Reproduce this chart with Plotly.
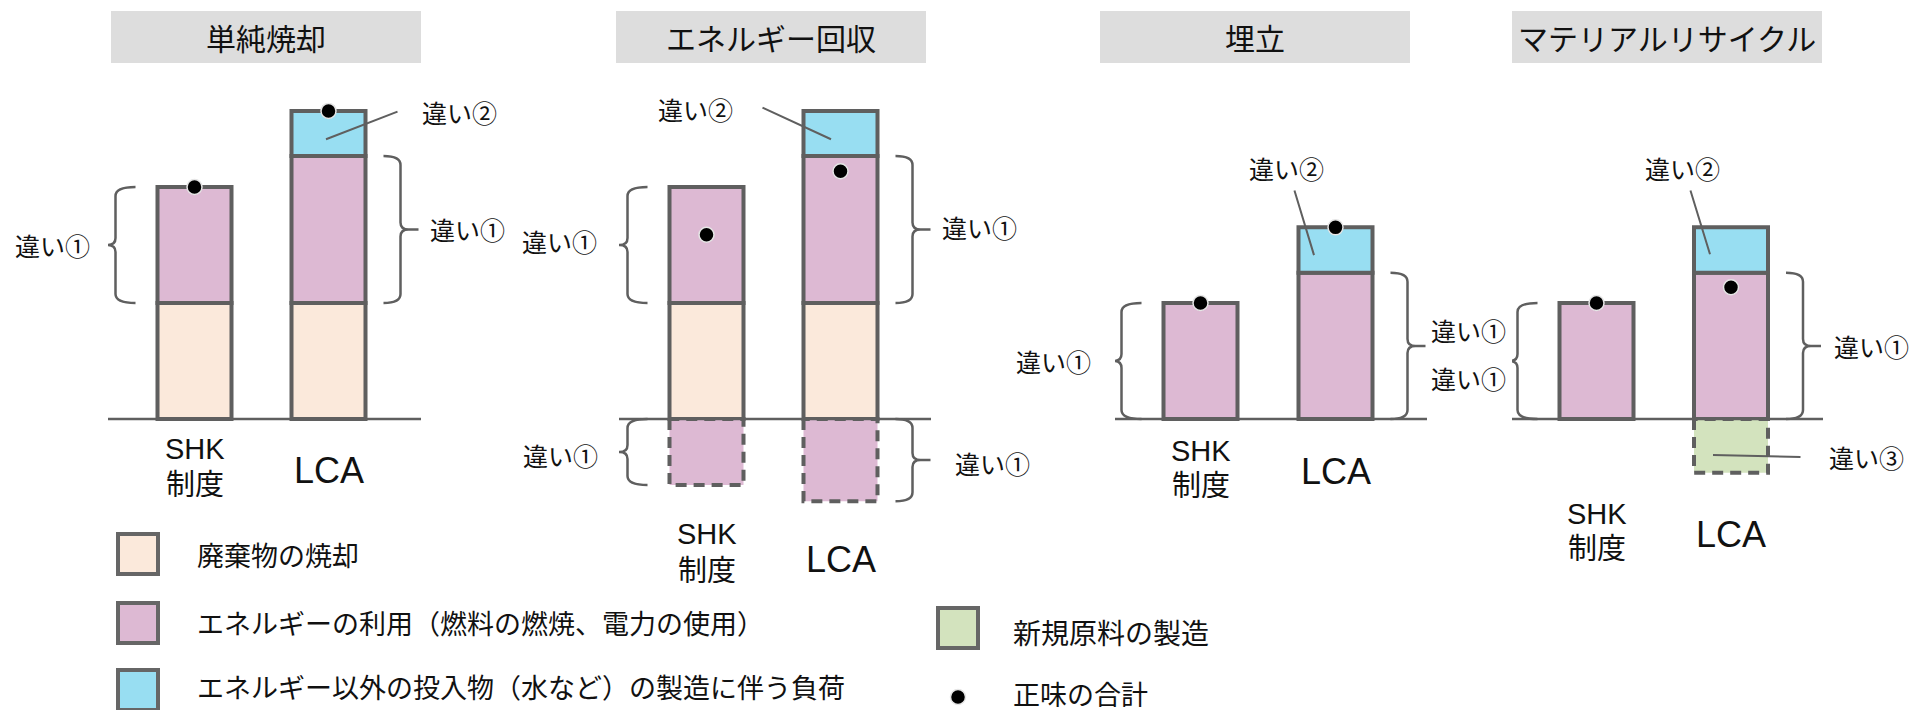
import plotly.graph_objects as go

# ---------------------------------------------------------------- data
PANELS = ["単純焼却", "エネルギー回収", "埋立", "マテリアルリサイクル"]
CATEGORIES = ["SHK制度", "LCA"]
CATEGORY_LINES = [["SHK", "制度"], ["LCA"]]

# stacked components per panel: [SHK制度, LCA]
WASTE_INCINERATION = [[2.5, 2.5], [2.5, 2.5], [None, None], [None, None]]
ENERGY_USE = [[2.5, 3.17], [2.5, 3.17], [2.5, 3.15], [2.5, 3.15]]
OTHER_INPUTS = [[None, 0.97], [None, 0.97], [None, 0.98], [None, 0.98]]
ENERGY_RECOVERY_CREDIT = [[None, None], [-1.42, -1.77], [None, None], [None, None]]
NEW_MATERIAL = [[None, None], [None, None], [None, None], [None, -1.16]]
NET_TOTAL = [[5.0, 6.64], [3.97, 5.34], [2.5, 4.13], [2.5, 2.84]]

LEGEND_LEFT = [
    "廃棄物の焼却",
    "エネルギーの利用（燃料の燃焼、電力の使用）",
    "エネルギー以外の投入物（水など）の製造に伴う負荷",
]
LEGEND_RIGHT = ["新規原料の製造", "正味の合計"]
DIFF_1, DIFF_2, DIFF_3 = "違い①", "違い②", "違い③"

# ---------------------------------------------------------------- style
W, H = 1912, 710
PEACH = "#FBE9DB"
PURPLE = "#DDB9D3"
BLUE = "#98DEF2"
GREEN = "#D3E3BE"
EDGE = "#5f5f5f"
TITLE_BG = "#DDDDDD"
TXT = "#111111"
JP = "Noto Sans CJK JP"
LAT = "Liberation Sans, Arial, Noto Sans CJK JP"

BASE_PX = 419          # page row of the zero line
PPU_Y = 46.4           # pixels per value unit
BAR_PX = 74

# pixel geometry of each panel: baseline extent, bar centres, title box, label rows
GEOM = [
    dict(line=(108, 421), centers=(194.5, 328.5), title=(111, 421), lab=(449, 482, 470)),
    dict(line=(619, 931), centers=(706.5, 840.5), title=(616, 926), lab=(534, 568, 559)),
    dict(line=(1115, 1427), centers=(1200.5, 1335.5), title=(1100, 1410), lab=(451, 483, 471)),
    dict(line=(1512, 1823), centers=(1596.5, 1731), title=(1512, 1822), lab=(514, 546, 534)),
]


def px(x):
    return x / W


def py(y):
    return 1 - y / H


fig = go.Figure()
shapes = []
annotations = []


def label(text, x, y, size, font=JP, xanchor="center", xref="paper", yref="paper", height=None):
    ann = dict(
        text=text, x=x, y=y, xref=xref, yref=yref, showarrow=False,
        xanchor=xanchor, yanchor="middle",
        font=dict(family=font, size=size, color=TXT),
    )
    if height is not None:
        ann.update(height=height, borderpad=0, valign="middle")
    annotations.append(ann)


def brace(xname, xc, y_lo, y_hi, ppu, side):
    if side == "left":
        spine, end, tip, s = -79, -59, -98, -1
    else:
        spine, end, tip, s = 72, 55, 90, 1
    knee = spine + s * 8

    def X(o):
        return xc + o / ppu

    r = 9 / PPU_Y
    k = 7 / PPU_Y
    ym = (y_lo + y_hi) / 2
    path = (
        f"M {X(end)},{y_hi} Q {X(spine)},{y_hi} {X(spine)},{y_hi - r} "
        f"L {X(spine)},{ym + k} Q {X(spine)},{ym} {X(knee)},{ym} L {X(tip)},{ym} "
        f"M {X(knee)},{ym} Q {X(spine)},{ym} {X(spine)},{ym - k} "
        f"L {X(spine)},{y_lo + r} Q {X(spine)},{y_lo} {X(end)},{y_lo}"
    )
    shapes.append(dict(type="path", path=path, xref=xname, yref="y",
                       line=dict(color=EDGE, width=2.5)))


layout_axes = {}
xs = list(range(len(CATEGORIES)))

for p, g in enumerate(GEOM):
    suffix = "" if p == 0 else str(p + 1)
    xname = "x" + suffix
    L, R = g["line"]
    c0, c1 = g["centers"]
    ppu = c1 - c0
    bw = BAR_PX / ppu
    layout_axes["xaxis" + suffix] = dict(
        domain=[px(L), px(R)], range=[(L - c0) / ppu, (R - c0) / ppu],
        visible=False, fixedrange=True,
    )

    # stacked solid segments
    for series, color in [(WASTE_INCINERATION, PEACH), (ENERGY_USE, PURPLE), (OTHER_INPUTS, BLUE)]:
        fig.add_trace(go.Bar(
            x=xs, y=series[p], width=bw, xaxis=xname, yaxis="y",
            marker=dict(color=color, line=dict(color=EDGE, width=4)),
            hoverinfo="skip", showlegend=False,
        ))
    # dashed segments below the zero line
    for series, color in [(ENERGY_RECOVERY_CREDIT, PURPLE), (NEW_MATERIAL, GREEN)]:
        fig.add_trace(go.Bar(
            x=xs, y=series[p], width=bw, xaxis=xname, yaxis="y",
            marker=dict(color=color, line=dict(width=0)),
            hoverinfo="skip", showlegend=False,
        ))
        for i, v in enumerate(series[p]):
            if v is None:
                continue
            a, b = i - bw / 2, i + bw / 2
            fig.add_trace(go.Scatter(
                x=[a, a, b, b, a], y=[0, v, v, 0, 0], mode="lines",
                xaxis=xname, yaxis="y",
                line=dict(color=EDGE, width=4, dash="11px,7px"),
                hoverinfo="skip", showlegend=False,
            ))

    # net totals
    fig.add_trace(go.Scatter(
        x=xs, y=NET_TOTAL[p], mode="markers", xaxis=xname, yaxis="y",
        marker=dict(color="black", size=15, line=dict(color="#e6e6e6", width=1.5)),
        hoverinfo="skip", showlegend=False,
    ))

    # zero line
    shapes.append(dict(type="line", xref=f"{xname} domain", x0=0, x1=1,
                       yref="y", y0=0, y1=0, line=dict(color=EDGE, width=2.5)))

    # braces around energy-use segments
    for i, side in [(0, "left"), (1, "right")]:
        lo = WASTE_INCINERATION[p][i] or 0
        brace(xname, i, lo, lo + ENERGY_USE[p][i], ppu, side)
        credit = ENERGY_RECOVERY_CREDIT[p][i]
        if credit is not None:
            brace(xname, i, credit, 0, ppu, side)

    # title box
    t0, t1 = g["title"]
    shapes.append(dict(type="rect", xref="paper", yref="paper", layer="below",
                       x0=px(t0), x1=px(t1), y0=py(63), y1=py(11),
                       fillcolor=TITLE_BG, line=dict(width=0)))
    label(PANELS[p], px((t0 + t1) / 2), py(37), 30)

    # category labels
    y_shk, y_sei, y_lca = g["lab"]
    label(CATEGORY_LINES[0][0], 0, py(y_shk), 29, font=LAT, xref=xname, height=28)
    label(CATEGORY_LINES[0][1], 0, py(y_sei), 29, xref=xname, height=30)
    label(CATEGORY_LINES[1][0], 1, py(y_lca), 36, font=LAT, xref=xname)

# brace labels (pixel centres)
for (x, y) in [(52, 245), (467, 229), (559, 241), (979, 227), (560, 455), (992, 463),
               (1053, 361), (1468, 330), (1468, 378), (1871, 346)]:
    label(DIFF_1, px(x), py(y), 25)
for (x, y) in [(459, 112), (695, 109), (1286, 168), (1682, 168)]:
    label(DIFF_2, px(x), py(y), 25)
label(DIFF_3, px(1866), py(457), 25)

# leader lines: (panel, head x offset px, fraction into segment, tail pixel)
for p, dx, frac, tail in [(0, -2.5, 0.37, (399, 111)), (1, -9.5, 0.37, (761, 107)),
                          (2, -21.5, 0.39, (1294, 189)), (3, -21, 0.41, (1690, 189))]:
    g = GEOM[p]
    lo = (WASTE_INCINERATION[p][1] or 0) + ENERGY_USE[p][1]
    hy = lo + frac * OTHER_INPUTS[p][1]
    hx_px = g["centers"][1] + dx
    hy_px = BASE_PX - hy * PPU_Y
    xname = "x" + ("" if p == 0 else str(p + 1))
    annotations.append(dict(
        text="", x=1 + dx / (g["centers"][1] - g["centers"][0]), y=hy,
        xref=xname, yref="y", showarrow=True, arrowhead=0, arrowwidth=2,
        arrowcolor=EDGE, ax=tail[0] - hx_px, ay=tail[1] - hy_px, standoff=0,
    ))
# leader to the new-material segment
g = GEOM[3]
hy = 0.67 * NEW_MATERIAL[3][1]
hx_px = g["centers"][1] - 18
annotations.append(dict(
    text="", x=1 - 18 / (g["centers"][1] - g["centers"][0]), y=hy,
    xref="x4", yref="y", showarrow=True, arrowhead=0, arrowwidth=2,
    arrowcolor=EDGE, ax=1802 - hx_px, ay=457 - (BASE_PX - hy * PPU_Y), standoff=0,
))

# legend
for (y0, color), text, ty in zip([(534, PEACH), (603, PURPLE), (670, BLUE)], LEGEND_LEFT, [554, 622, 686]):
    shapes.append(dict(type="rect", xref="paper", yref="paper", x0=px(118), x1=px(158),
                       y0=py(y0 + 40), y1=py(y0), fillcolor=color,
                       line=dict(color="#666666", width=4)))
    label(text, px(196), py(ty), 27, xanchor="left", height=32)
shapes.append(dict(type="rect", xref="paper", yref="paper", x0=px(938), x1=px(978),
                   y0=py(648), y1=py(608), fillcolor=GREEN,
                   line=dict(color="#666666", width=4)))
label(LEGEND_RIGHT[0], px(1012), py(632), 28, xanchor="left", height=32)
shapes.append(dict(type="circle", xref="paper", yref="paper", x0=px(950.5), x1=px(965.5),
                   y0=py(704.5), y1=py(689.5), fillcolor="black",
                   line=dict(color="#e6e6e6", width=1.5)))
label(LEGEND_RIGHT[1], px(1012), py(693), 27, xanchor="left", height=28)

fig.update_layout(
    width=W, height=H,
    margin=dict(l=0, r=0, t=0, b=0),
    paper_bgcolor="white", plot_bgcolor="rgba(0,0,0,0)",
    barmode="relative", showlegend=False,
    yaxis=dict(range=[(BASE_PX - H) / PPU_Y, BASE_PX / PPU_Y], domain=[0, 1],
               visible=False, fixedrange=True),
    shapes=shapes, annotations=annotations,
    **layout_axes,
)

fig.write_html("out.html")
